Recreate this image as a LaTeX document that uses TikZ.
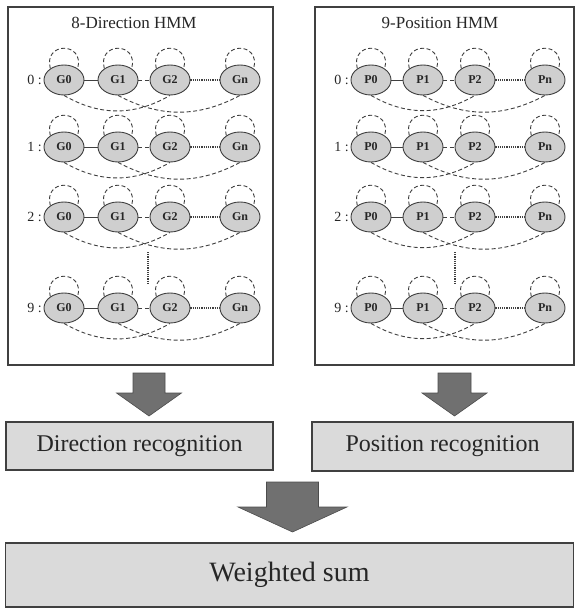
\documentclass[tikz,border=0pt]{standalone}
\usepackage{fontspec}
\setmainfont{Liberation Serif}
\usetikzlibrary{shapes.geometric,positioning,calc}

\definecolor{stategray}{HTML}{CFCFCF}
\definecolor{boxgray}{HTML}{DADADA}
\definecolor{arrowgray}{HTML}{707070}
\definecolor{linegray}{HTML}{404040}

% block arrow: from, to, shaft half width, head half width, head length
\newcommand{\fatarrow}[5]{%
  \filldraw[arrow_style] let \p1=(#1), \p2=(#2) in
    (\x2-#3,\y1) -- (\x2+#3,\y1) -- (\x2+#3,\y2+#5) -- (\x2+#4,\y2+#5) -- (\x2,\y2)
    -- (\x2-#4,\y2+#5) -- (\x2-#3,\y2+#5) -- cycle;}

\begin{document}
\begin{tikzpicture}[x=1pt, y=-1pt, text=black!85,
    panel_style/.style={draw=linegray, line width=1.2pt, fill=white, inner sep=0},
    box_style/.style={draw=linegray, line width=1.1pt, fill=boxgray, inner sep=0},
    state_style/.style={ellipse, draw=linegray, line width=0.9pt, fill=stategray,
        minimum width=40pt, minimum height=30pt, inner sep=0,
        font=\fontsize{12}{14}\selectfont\bfseries},
    row_label/.style={inner sep=0, font=\fontsize{14}{16}\selectfont},
    title_style/.style={inner sep=0, font=\fontsize{17}{20}\selectfont},
    arrow_style/.style={draw=black!70, line width=0.6pt, fill=arrowgray},
    loop_style/.style={draw=linegray, line width=0.9pt, dash pattern=on 4pt off 2.5pt},
    edge_solid/.style={draw=linegray, line width=0.9pt},
    edge_dashed/.style={draw=linegray, line width=0.9pt, dash pattern=on 4pt off 2.5pt},
    edge_dotted/.style={draw=linegray, line width=1.2pt, dash pattern=on 1.1pt off 1.1pt}]

    \useasboundingbox (0,0) rectangle (575,609);

    % the two HMM panels
    \node[panel_style, minimum width=265pt, minimum height=358pt] (dirpanel) at (140.5,186) {};
    \node[panel_style, minimum width=259pt, minimum height=358pt] (pospanel) at (444.5,186) {};
    \node[title_style] (dirtitle) at (134,23) {8-Direction HMM};
    \node[title_style] (postitle) at (440,23) {9-Position HMM};

    \foreach \p/\xa/\xb/\xc/\xd/\xv in {G/64/118/170/240/148, P/371/423/475/545/455} {
      \foreach \r/\y in {0/80, 1/147, 2/217, 9/308} {
        \node[state_style] (\p-\r-0) at (\xa,\y) {\p0};
        \node[state_style] (\p-\r-1) at (\xb,\y) {\p1};
        \node[state_style] (\p-\r-2) at (\xc,\y) {\p2};
        \node[state_style] (\p-\r-n) at (\xd,\y) {\p n};
        \node[row_label, left=1.5pt of \p-\r-0] (\p-\r-lab) {\r\ :};

        \draw[edge_solid]  (\p-\r-0) -- (\p-\r-1);
        \draw[edge_dashed] (\p-\r-1) -- (\p-\r-2);
        \draw[edge_dotted] (\p-\r-2) -- (\p-\r-n);

        \foreach \k in {0,1,2,n}
          \draw[loop_style] (\p-\r-\k.140) .. controls +(105:28pt) and +(75:28pt) .. (\p-\r-\k.40);

        \draw[loop_style] (\p-\r-0.south) to[bend right=30] (\p-\r-2.south);
        \draw[loop_style] (\p-\r-1.south) to[bend right=28] (\p-\r-n.south);
      }
      \draw[edge_dotted] (\xv,252) -- (\xv,283);
    }

    % recognition boxes
    \node[box_style, minimum width=267pt, minimum height=48pt,
        font=\fontsize{24}{28}\selectfont] (dirbox) at (139.5,446) {Direction recognition};
    \node[box_style, minimum width=261pt, minimum height=49pt,
        font=\fontsize{24}{28}\selectfont] (posbox) at (442.5,446.5) {Position recognition};
    \node[box_style, minimum width=568pt, minimum height=64pt,
        font=\fontsize{28}{32}\selectfont] (sumbox) at (289.5,575) {Weighted sum};

    % block arrows between panels and boxes
    \coordinate (dir_from) at (149,373);
    \coordinate (dir_to) at (149,416);
    \coordinate (pos_from) at (454.5,373);
    \coordinate (pos_to) at (454.5,416);
    \coordinate (sum_from) at (292.5,482);
    \coordinate (sum_to) at (292.5,532);
    \fatarrow{dir_from}{dir_to}{16pt}{32.5pt}{23pt}
    \fatarrow{pos_from}{pos_to}{16.5pt}{32.5pt}{23pt}
    \fatarrow{sum_from}{sum_to}{26pt}{54.5pt}{25pt}
\end{tikzpicture}
\end{document}
